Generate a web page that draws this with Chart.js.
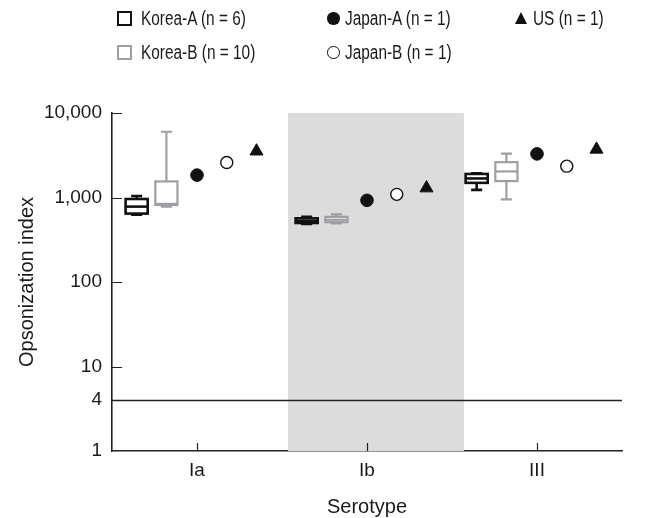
<!DOCTYPE html>
<html>
<head>
<meta charset="utf-8">
<script src="https://cdn.jsdelivr.net/npm/chart.js@4.4.1/dist/chart.umd.min.js"></script>
<style>
  body { margin: 0; background: #fff; }
  #wrap { position: relative; width: 645px; height: 518px; font-family: 'Liberation Sans', Arial, sans-serif; color: #1a1a1a; }
  canvas { position: absolute; left: 0; top: 0; }
  .leg { position: absolute; font-size: 20px; line-height: 20px; white-space: nowrap; transform: scaleX(0.77); transform-origin: 0 50%; }
  .mk { position: absolute; box-sizing: border-box; }
</style>
</head>
<body>
<div id="wrap">
  <canvas id="chart" width="645" height="518"></canvas>
  <div id="legend"></div>
</div>
<script>
// --- data ---
const serotypes = ['Ia', 'Ib', 'III'];
const yTicks = [1, 4, 10, 100, 1000, 10000];

// box plot series: [min, q1, median, q3, max] per serotype
const koreaAMin = [625, 486, 1230];
const koreaAQ1 = [645, 499, 1490];
const koreaAMed = [780, 530, 1680];
const koreaAQ3 = [960, 567, 1900];
const koreaAMax = [1040, 592, 1940];

const koreaBMin = [780, 495, 951];
const koreaBQ1 = [815, 510, 1565];
const koreaBMed = [840, 545, 2035];
const koreaBQ3 = [1550, 590, 2620];
const koreaBMax = [6000, 630, 3300];

// single strains
const japanA = [1841, 926, 3282];
const japanB = [2600, 1089, 2350];
const us = [3530, 1292, 3710];

const cutoff = 4;

// --- style ---
const BLACK = '#111';
const GREY = '#9e9fa3';
const FONT = "'Liberation Sans', Arial, sans-serif";
const offsets = { koreaA: -0.355, koreaB: -0.18, japanA: 0, japanB: 0.175, us: 0.35 };
const boxWidth = 0.13;
const shadeFrom = 1.535, shadeTo = 2.57;

const boxSeries = [
  { name: 'Korea-A', n: 6, color: BLACK, lw: 2.6, off: offsets.koreaA,
    min: koreaAMin, q1: koreaAQ1, med: koreaAMed, q3: koreaAQ3, max: koreaAMax },
  { name: 'Korea-B', n: 10, color: GREY, lw: 2.2, off: offsets.koreaB,
    min: koreaBMin, q1: koreaBQ1, med: koreaBMed, q3: koreaBQ3, max: koreaBMax }
];

const pts = (vals, off) => vals.map((v, i) => ({ x: i + 1 + off, y: v }));

// shading, cut-off line and box plots, drawn under the points
const boxPlugin = {
  id: 'boxes',
  beforeDatasetsDraw(chart) {
    const { ctx, chartArea: a, scales: { x, y } } = chart;
    ctx.save();
    const s0 = x.getPixelForValue(shadeFrom), s1 = x.getPixelForValue(shadeTo);
    ctx.fillStyle = '#dcdcdc';
    ctx.fillRect(s0, a.top, s1 - s0, a.bottom - a.top);

    const yc = Math.round(y.getPixelForValue(cutoff)) + 0.5;
    ctx.strokeStyle = '#222';
    ctx.lineWidth = 1.5;
    ctx.beginPath(); ctx.moveTo(a.left, yc); ctx.lineTo(a.right, yc); ctx.stroke();

    const half = (x.getPixelForValue(boxWidth) - x.getPixelForValue(0)) / 2;
    const cap = half / 2;
    boxSeries.forEach(s => {
      ctx.strokeStyle = s.color;
      ctx.lineWidth = s.lw;
      serotypes.forEach((_, i) => {
        const cx = x.getPixelForValue(i + 1 + s.off);
        const pMin = y.getPixelForValue(s.min[i]), pQ1 = y.getPixelForValue(s.q1[i]);
        const pMed = y.getPixelForValue(s.med[i]), pQ3 = y.getPixelForValue(s.q3[i]);
        const pMax = y.getPixelForValue(s.max[i]);
        ctx.beginPath();
        ctx.moveTo(cx, pQ3); ctx.lineTo(cx, pMax);
        ctx.moveTo(cx - cap, pMax); ctx.lineTo(cx + cap, pMax);
        ctx.moveTo(cx, pQ1); ctx.lineTo(cx, pMin);
        ctx.moveTo(cx - cap, pMin); ctx.lineTo(cx + cap, pMin);
        ctx.stroke();
        ctx.fillStyle = '#fff';
        ctx.fillRect(cx - half, pQ3, half * 2, pQ1 - pQ3);
        ctx.strokeRect(cx - half, pQ3, half * 2, pQ1 - pQ3);
        ctx.beginPath(); ctx.moveTo(cx - half, pMed); ctx.lineTo(cx + half, pMed); ctx.stroke();
      });
    });
    ctx.restore();
  },
  afterDraw(chart) {
    // inward tick marks
    const { ctx, chartArea: a, scales: { x, y } } = chart;
    ctx.save();
    ctx.strokeStyle = '#222';
    ctx.lineWidth = 1.2;
    ctx.beginPath();
    [10, 100, 1000, 10000].forEach(v => {
      const py = Math.round(y.getPixelForValue(v)) + 0.5;
      ctx.moveTo(a.left, py); ctx.lineTo(a.left + 10, py);
    });
    serotypes.forEach((_, i) => {
      const px = Math.round(x.getPixelForValue(i + 1)) + 0.5;
      ctx.moveTo(px, a.bottom); ctx.lineTo(px, a.bottom - 8);
    });
    ctx.stroke();
    ctx.restore();
  }
};

new Chart(document.getElementById('chart'), {
  type: 'scatter',
  data: {
    datasets: [
      { label: 'Japan-A (n = 1)', data: pts(japanA, offsets.japanA), pointStyle: 'circle', pointRadius: 6.3,
        backgroundColor: BLACK, borderColor: BLACK, borderWidth: 1 },
      { label: 'Japan-B (n = 1)', data: pts(japanB, offsets.japanB), pointStyle: 'circle', pointRadius: 6,
        backgroundColor: '#fff', borderColor: BLACK, borderWidth: 1.4 },
      { label: 'US (n = 1)', data: pts(us, offsets.us), pointStyle: 'triangle', pointRadius: 7.5,
        backgroundColor: BLACK, borderColor: BLACK, borderWidth: 1 }
    ]
  },
  options: {
    responsive: false,
    animation: false,
    layout: { padding: { top: 113, right: 23, left: 0, bottom: 0 } },
    plugins: { legend: { display: false }, tooltip: { enabled: false } },
    scales: {
      x: {
        type: 'linear', min: 0.5, max: 3.5,
        grid: { display: false, drawTicks: false },
        border: { display: true, color: '#222', width: 1.6 },
        afterBuildTicks: s => { s.ticks = serotypes.map((_, i) => ({ value: i + 1 })); },
        afterFit: s => { s.height = 67; },
        ticks: { color: '#1a1a1a', padding: 8, font: { family: FONT, size: 19 },
                 callback: v => serotypes[v - 1] },
        title: { display: true, text: 'Serotype', color: '#1a1a1a', padding: { top: 0, bottom: -1 },
                 font: { family: FONT, size: 20 } }
      },
      y: {
        type: 'logarithmic', min: 1, max: 10000,
        grid: { display: false, drawTicks: false },
        border: { display: true, color: '#222', width: 1.6 },
        afterBuildTicks: s => { s.ticks = yTicks.map(v => ({ value: v })); },
        afterFit: s => { s.width = 112; },
        ticks: { color: '#1a1a1a', padding: 10, font: { family: FONT, size: 19 },
                 callback: v => v.toLocaleString('en-US') },
        title: { display: true, text: 'Opsonization index', color: '#1a1a1a', padding: { top: 15, bottom: 0 },
                 font: { family: FONT, size: 20 } }
      }
    }
  },
  plugins: [boxPlugin]
});

// legend (HTML)
const legendItems = [
  { text: 'Korea-A (n = 6)', x: 117, y: 18, mk: 'box', color: BLACK, bw: 2.6 },
  { text: 'Japan-A (n = 1)', x: 327, y: 18, mk: 'dot' },
  { text: 'US (n = 1)', x: 515, y: 18, mk: 'tri' },
  { text: 'Korea-B (n = 10)', x: 117, y: 52, mk: 'box', color: GREY, bw: 2.2 },
  { text: 'Japan-B (n = 1)', x: 327, y: 52, mk: 'ring' }
];
const legend = document.getElementById('legend');
legendItems.forEach(it => {
  const m = document.createElement('div');
  m.className = 'mk';
  if (it.mk === 'box') {
    Object.assign(m.style, { left: it.x + 'px', top: (it.y - 7.5) + 'px', width: '15px', height: '15px',
      border: it.bw + 'px solid ' + it.color });
  } else if (it.mk === 'dot' || it.mk === 'ring') {
    Object.assign(m.style, { left: it.x + 'px', top: (it.y - 6) + 'px', width: '12.5px', height: '12.5px',
      borderRadius: '50%', background: it.mk === 'dot' ? BLACK : '#fff',
      border: it.mk === 'dot' ? 'none' : '1.4px solid ' + BLACK });
  } else {
    Object.assign(m.style, { left: it.x + 'px', top: (it.y - 6) + 'px', width: '0', height: '0',
      borderLeft: '6.5px solid transparent', borderRight: '6.5px solid transparent', borderBottom: '12px solid ' + BLACK });
  }
  legend.appendChild(m);
  const t = document.createElement('span');
  t.className = 'leg';
  t.textContent = it.text;
  t.style.left = (it.x + (it.mk === 'box' ? 24 : 18)) + 'px';
  t.style.top = (it.y - 10) + 'px';
  legend.appendChild(t);
});
</script>
</body>
</html>
